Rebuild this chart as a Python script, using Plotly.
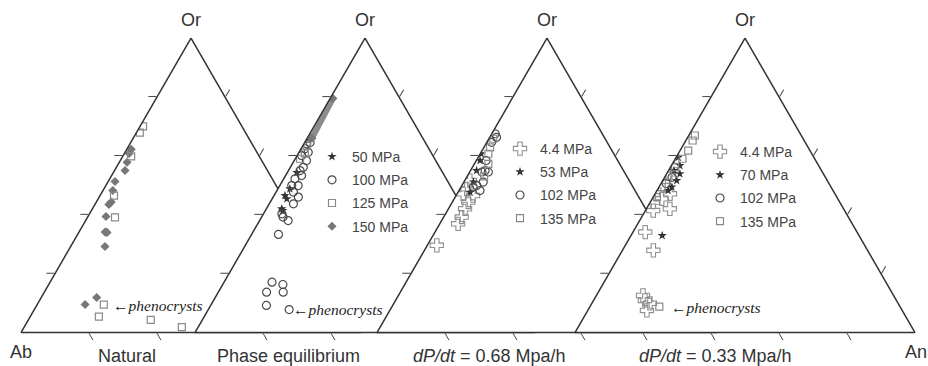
import plotly.graph_objects as go
import math

OX, OY = 0, 0
W, Hpx = 928, 366

# ---------------- data (Or = a, An = c, Ab = 1 - Or - An) ----------------
# Panel 1: Natural
nat_sq_or = [0.700, 0.679, 0.598, 0.465, 0.391, 0.095, 0.054, 0.043, 0.018]
nat_sq_an = [0.009, 0.010, 0.025, 0.041, 0.081, 0.196, 0.202, 0.360, 0.464]
nat_dia_or = [0.622, 0.608, 0.578, 0.550, 0.513, 0.482, 0.443, 0.435, 0.394, 0.341, 0.340, 0.292, 0.095, 0.119]
nat_dia_an = [0.013, 0.014, 0.023, 0.031, 0.020, 0.029, 0.044, 0.041, 0.053, 0.077, 0.083, 0.101, 0.141, 0.163]

# Panel 2: Phase equilibrium
pe_star_or = [0.543, 0.488, 0.465, 0.454, 0.420, 0.414]
pe_star_an = [0.028, 0.035, 0.032, 0.043, 0.045, 0.051]
pe_circ_or = [0.659, 0.645, 0.641, 0.624, 0.612, 0.601, 0.584, 0.561, 0.550, 0.533, 0.522, 0.499, 0.499,
              0.477, 0.460, 0.437, 0.403, 0.380, 0.392, 0.333, 0.171, 0.137, 0.163, 0.137, 0.092, 0.078]
pe_circ_an = [0.003, 0.016, 0.008, 0.011, 0.027, 0.013, 0.036, 0.038, 0.034, 0.047, 0.033, 0.054, 0.035,
              0.051, 0.074, 0.071, 0.054, 0.084, 0.063, 0.079, 0.141, 0.142, 0.177, 0.191, 0.164, 0.238]
pe_sq_or = [0.635, 0.608, 0.590]
pe_sq_an = [0.011, 0.019, 0.014]
pe_dia_or = [0.795, 0.660]
pe_dia_an = [0.008, 0.014]

# Panel 3: dP/dt = 0.68 MPa/h
r1_cross_or = [0.516, 0.488, 0.471, 0.465, 0.443, 0.420, 0.392, 0.369, 0.296]
r1_cross_an = [0.015, 0.020, 0.018, 0.050, 0.047, 0.049, 0.053, 0.054, 0.028]
r1_star_or = [0.607, 0.584, 0.550, 0.511, 0.476]
r1_star_an = [0.003, 0.011, 0.018, 0.028, 0.036]
r1_circ_or = [0.675, 0.663, 0.646, 0.584, 0.550, 0.545, 0.545, 0.511, 0.499, 0.494, 0.482]
r1_circ_an = [0.010, 0.020, 0.014, 0.029, 0.043, 0.055, 0.036, 0.057, 0.044, 0.036, 0.062]
r1_sq_or = [0.658, 0.629, 0.607, 0.573, 0.530]
r1_sq_an = [0.013, 0.018, 0.024, 0.041, 0.050]

# Panel 4: dP/dt = 0.33 MPa/h
r2_cross_or = [0.567, 0.539, 0.499, 0.471, 0.454, 0.443, 0.414, 0.420, 0.341, 0.279, 0.126, 0.109, 0.099, 0.075]
r2_cross_an = [0.003, 0.005, 0.010, 0.044, 0.028, 0.009, 0.023, 0.069, 0.036, 0.091, 0.137, 0.151, 0.171, 0.174]
r2_star_or = [0.595, 0.567, 0.550, 0.539, 0.516, 0.494, 0.482, 0.329]
r2_star_an = [0.006, 0.025, 0.016, 0.039, 0.041, 0.038, 0.033, 0.092]
r2_circ_or = [0.527, 0.506]
r2_circ_an = [0.022, 0.015]
r2_sq_or = [0.669, 0.652, 0.618, 0.590, 0.561, 0.533, 0.494, 0.460, 0.088]
r2_sq_an = [0.018, 0.020, 0.024, 0.021, 0.014, 0.008, 0.008, 0.011, 0.204]

panel_titles = ["Natural", "Phase equilibrium", "<i>dP/dt</i> = 0.68 Mpa/h", "<i>dP/dt</i> = 0.33 Mpa/h"]
legend_labels_pe = ["50 MPa", "100 MPa", "125 MPa", "150 MPa"]
legend_labels_r1 = ["4.4 MPa", "53 MPa", "102 MPa", "135 MPa"]
legend_labels_r2 = ["4.4 MPa", "70 MPa", "102 MPa", "135 MPa"]

# ---------------- styles ----------------
FONT = "Liberation Sans, Arial, sans-serif"
STAR = dict(symbol="star", size=7, color="#333333", line=dict(width=0))
CIRC = dict(symbol="circle-open", size=8, color="#4a4a4a", line=dict(width=1.2))
SQ = dict(symbol="square-open", size=7, color="#8a8a8a", line=dict(width=1.2))
DIA = dict(symbol="diamond", size=7, color="#777777", line=dict(width=0))
CROSS = dict(symbol="cross-open", size=11, color="#8f8f8f", line=dict(width=1.1))

fig = go.Figure()

def b_of(a, c):
    return [1 - x - y for x, y in zip(a, c)]

def add(tern, a, c, marker, name=None, legend=None, group=None):
    fig.add_trace(go.Scatterternary(
        a=a, b=b_of(a, c), c=c, mode="markers", marker=marker,
        subplot=tern, name=name or "", showlegend=legend is not None,
        legend=legend or "legend", legendgroup=group, hoverinfo="skip"))

# panel 1
add("ternary", nat_dia_or, nat_dia_an, DIA)
add("ternary", nat_sq_or, nat_sq_an, SQ)

# panel 2
fig.add_trace(go.Scatterternary(a=pe_dia_or, b=b_of(pe_dia_or, pe_dia_an), c=pe_dia_an,
                                mode="lines", line=dict(color="#8c8c8c", width=6),
                                subplot="ternary2", showlegend=False, hoverinfo="skip"))
add("ternary2", pe_star_or, pe_star_an, STAR, legend_labels_pe[0], "legend2", "p1")
add("ternary2", pe_circ_or, pe_circ_an, CIRC, legend_labels_pe[1], "legend2", "p2")
add("ternary2", pe_sq_or, pe_sq_an, SQ, legend_labels_pe[2], "legend2", "p3")
add("ternary2", pe_dia_or, pe_dia_an, DIA, legend_labels_pe[3], "legend2", "p4")

# panel 3
add("ternary3", r1_cross_or, r1_cross_an, CROSS, legend_labels_r1[0], "legend3", "q1")
add("ternary3", r1_star_or, r1_star_an, STAR, legend_labels_r1[1], "legend3", "q2")
add("ternary3", r1_circ_or, r1_circ_an, CIRC, legend_labels_r1[2], "legend3", "q3")
add("ternary3", r1_sq_or, r1_sq_an, SQ, legend_labels_r1[3], "legend3", "q4")

# panel 4
add("ternary4", r2_cross_or, r2_cross_an, CROSS, legend_labels_r2[0], "legend4", "r1")
add("ternary4", r2_star_or, r2_star_an, STAR, legend_labels_r2[1], "legend4", "r2")
add("ternary4", r2_circ_or, r2_circ_an, CIRC, legend_labels_r2[2], "legend4", "r3")
add("ternary4", r2_sq_or, r2_sq_an, SQ, legend_labels_r2[3], "legend4", "r4")

# ---------------- layout (positions in screen pixels, converted) ----------------
def px(X):
    return (X - OX) / W

def py(Y):
    return 1 - (Y - OY) / Hpx

side = 340.0
tri_h = side * math.sqrt(3) / 2
base_y = 332.5
left_x = [21, 195, 377, 575]
yc = base_y - tri_h / 2
ydom = [py(yc + 155), py(yc - 155)]
b_ticks = [[0.8, 0.6], [0.8, 0.6], [0.8, 0.6, 0.4], [0.8, 0.6, 0.4, 0.2]]

def axis(tv):
    return dict(tickmode="array", tickvals=tv, ticks="outside", ticklen=8,
                tickwidth=1.1, tickcolor="#444", showticklabels=False, showgrid=False,
                showline=True, linecolor="#333", linewidth=1.5, title=dict(text=""))

lay = dict(width=W, height=Hpx, margin=dict(l=0, r=0, t=0, b=0),
           paper_bgcolor="white", plot_bgcolor="white",
           font=dict(family=FONT, color="#333"))
for i, xl in enumerate(left_x):
    key = "ternary" if i == 0 else f"ternary{i+1}"
    lay[key] = dict(sum=1, bgcolor="white",
                    domain=dict(x=[px(xl), px(xl + side)], y=ydom),
                    aaxis=axis([0.2, 0.4, 0.6, 0.8]),
                    baxis=axis(b_ticks[i]),
                    caxis=axis([0.2, 0.4, 0.6, 0.8]))

leg_common = dict(bgcolor="rgba(0,0,0,0)", borderwidth=0, xanchor="left", yanchor="top",
                  traceorder="grouped", tracegroupgap=2, itemclick=False, itemdoubleclick=False,
                  font=dict(family=FONT, size=14, color="#444"))
lay["legend2"] = dict(x=px(332 - 20), y=py(141), **leg_common)
lay["legend3"] = dict(x=px(518 - 18), y=py(133), **leg_common)
lay["legend4"] = dict(x=px(718 - 18), y=py(136), **leg_common)
fig.update_layout(**lay)

def ann(text, x, y, size=18, xanchor="center", color="#333", family=FONT):
    fig.add_annotation(text=text, x=px(x), y=py(y), xref="paper", yref="paper",
                       showarrow=False, xanchor=xanchor, yanchor="middle",
                       font=dict(size=size, color=color, family=family))

for xl in left_x:
    ann("Or", xl + side / 2, 20)
ann("Ab", 21, 352)
ann("An", 916, 352)
title_x = [127, 288, 489, 715]
for t, x in zip(panel_titles, title_x):
    ann(t, x, 356)

SERIF = "Liberation Serif, Times New Roman, serif"
for x, y in [(111, 305), (291, 309), (669, 307)]:
    ann("←<i>phenocrysts</i>", x, y, size=15.5, xanchor="left", color="#222", family=SERIF)

fig.write_html("out.html", config={"displayModeBar": False},
               post_script="document.body.style.margin='0';document.body.style.overflow='hidden';")
